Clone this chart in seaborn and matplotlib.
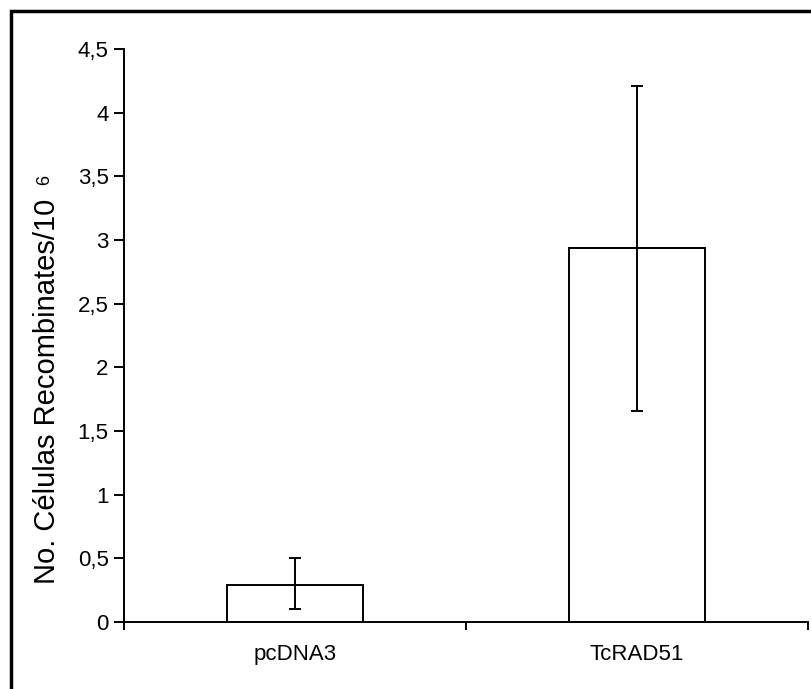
import matplotlib
matplotlib.use("Agg")
import matplotlib.pyplot as plt
import seaborn as sns
import pandas as pd
import numpy as np
from matplotlib.patches import Rectangle

categories = ["pcDNA3", "TcRAD51"]
values = [0.29, 2.94]
err_low = [0.10, 1.66]
err_high = [0.50, 4.21]
yticks = [0, 0.5, 1, 1.5, 2, 2.5, 3, 3.5, 4, 4.5]
ytick_labels = ["0", "0,5", "1", "1,5", "2", "2,5", "3", "3,5", "4", "4,5"]

sns.set_theme(style="white")
plt.rcParams['font.family'] = ['Liberation Sans', 'DejaVu Sans']
plt.rcParams['text.color'] = 'black'
plt.rcParams['xtick.color'] = 'black'
plt.rcParams['ytick.color'] = 'black'

df = pd.DataFrame({"cat": categories, "val": values})

fig = plt.figure(figsize=(8.12, 6.89), dpi=100)
ax = fig.add_axes([124/812, 1-622/689, (808-124)/812, (622-49)/689])

sns.barplot(data=df, x="cat", y="val", ax=ax, color="white", edgecolor="black",
            linewidth=1.4, width=0.4, errorbar=None, order=categories)

x = np.arange(len(categories))
yerr = [np.array(values) - np.array(err_low), np.array(err_high) - np.array(values)]
ax.errorbar(x, values, yerr=yerr, fmt="none", ecolor="black", elinewidth=1.4,
            capsize=4.5, capthick=1.4)

ax.set_xlim(-0.5, 1.5)
ax.set_ylim(0, 4.5)
ax.set_yticks(yticks)
ax.set_yticklabels(ytick_labels, fontsize=16)
ax.set_xticks([-0.5, 0.5, 1.5])
ax.set_xticklabels([])
ax.set_xticks(x, minor=True)
ax.set_xticklabels(categories, minor=True, fontsize=16)
ax.tick_params(axis="x", which="minor", length=0, pad=16)
ax.tick_params(axis="x", which="major", direction="out", length=6, width=1.4, color="black", bottom=True)
ax.tick_params(axis="y", direction="out", length=7, width=1.4, color="black", left=True, pad=4)
for side in ["top", "right"]:
    ax.spines[side].set_visible(False)
for side in ["left", "bottom"]:
    ax.spines[side].set_color("black")
    ax.spines[side].set_linewidth(1.4)
ax.set_xlabel("")
ax.set_ylabel("")

fig.text(47/812, 1-391/689, "No. Células Recombinates/10", rotation=90,
         ha="center", va="center", fontsize=21)
fig.text(45/812, 1-180/689, "6", rotation=90, ha="center", va="center", fontsize=13)

frame = Rectangle((11/812, -0.1), 1.2, 1-11/689+0.1, transform=fig.transFigure,
                  fill=False, edgecolor="black", linewidth=2.5)
fig.patches.append(frame)

fig.savefig("out.png", dpi=100)
